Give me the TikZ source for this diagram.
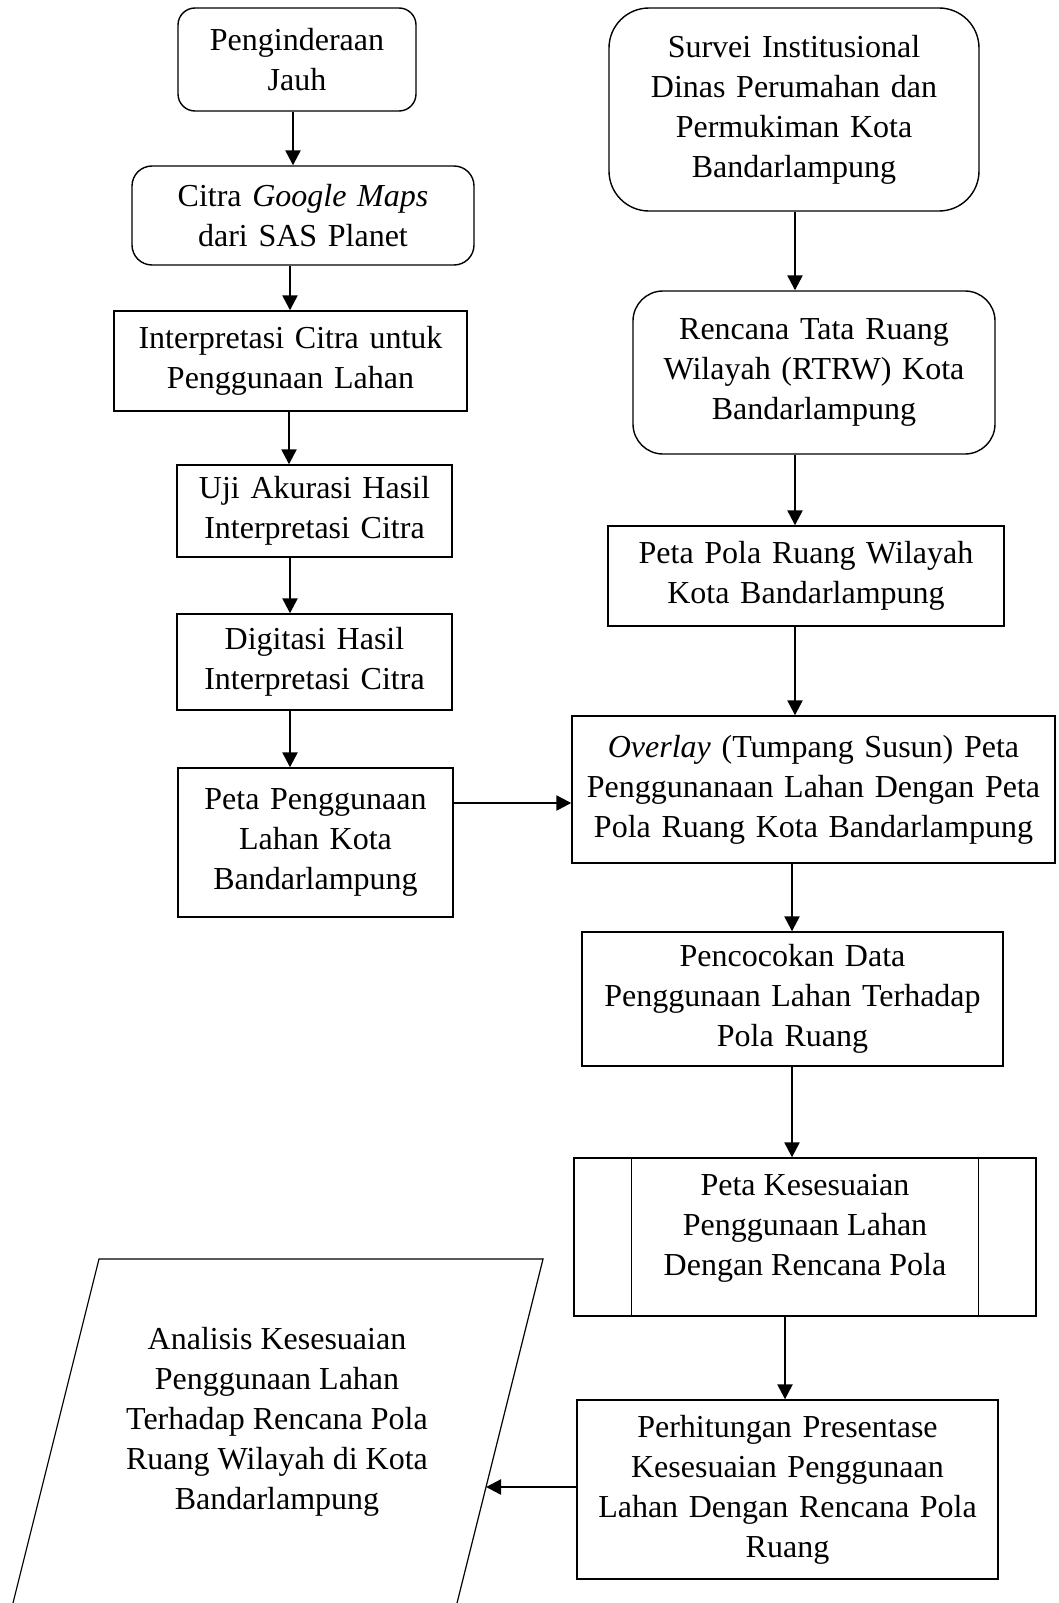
\documentclass[tikz,border=0pt]{standalone}
\usepackage{fontspec}
\setmainfont{Liberation Serif}
\usetikzlibrary{arrows.meta,calc}
\begin{document}
\begin{tikzpicture}[x=1pt,y=-1pt,
  txt/.style={inner sep=0pt, align=center, font=\fontsize{32}{40}\selectfont},
  box/.style={txt, draw, line width=1.4pt},
  sz/.style 2 args={text width=#1pt, minimum height=#2pt},
  arr/.style={line width=2.4pt, -{Triangle[length=15pt,width=15pt]}},
]
\useasboundingbox (0,0) rectangle (1059,1603);

% left column
\node[box, sz={238}{103}, rounded corners=17pt] (pj) at (297,59.5) {Penginderaan\\Jauh};
\node[box, sz={342}{99}, rounded corners=20pt] (cgm) at (303,215.5) {Citra \textit{Google Maps}\\dari SAS Planet};
\node[box, sz={353}{100}] (icl) at (290.5,361) {Interpretasi Citra untuk\\Penggunaan Lahan};
\node[box, sz={275}{92}] (uji) at (314.5,511) {Uji Akurasi Hasil\\Interpretasi Citra};
\node[box, sz={275}{96}] (dig) at (314.5,662) {Digitasi Hasil\\Interpretasi Citra};
\node[box, sz={275}{149}] (ppl) at (315.5,842.5) {Peta Penggunaan\\Lahan Kota\\Bandarlampung};

% right column
\node[box, sz={370}{203}, rounded corners=40pt] (sv) at (794,109.5) {Survei Institusional\\Dinas Perumahan dan\\Permukiman Kota\\Bandarlampung};
\node[box, sz={362}{163}, rounded corners=30pt] (rt) at (814,372.5) {Rencana Tata Ruang\\Wilayah (RTRW) Kota\\Bandarlampung};
\node[box, sz={396}{100}] (ppr) at (806,576) {Peta Pola Ruang Wilayah\\Kota Bandarlampung};
\node[box, sz={483}{147}] (ov) at (813.5,789.5) {\textit{Overlay} (Tumpang Susun) Peta\\Penggunanaan Lahan Dengan Peta\\Pola Ruang Kota Bandarlampung};
\node[box, sz={421}{134}] (pc) at (792.5,999) {Pencocokan Data\\Penggunaan Lahan Terhadap\\Pola Ruang};
\node[box, sz={462}{158}] (kes) at (805,1237) {};
\draw[line width=1.4pt] ([xshift=58pt]kes.north west) -- ([xshift=58pt]kes.south west);
\draw[line width=1.4pt] ([xshift=-58pt]kes.north east) -- ([xshift=-58pt]kes.south east);
\node[txt] (kest) at (805,1228) {Peta Kesesuaian\\Penggunaan Lahan\\Dengan Rencana Pola};
\node[box, sz={421}{179}] (ph) at (787.5,1489.5) {Perhitungan Presentase\\Kesesuaian Penggunaan\\Lahan Dengan Rencana Pola\\Ruang};

% output parallelogram (cut by the page bottom)
\draw[line width=1.2pt, line join=miter] (13,1603) -- (99,1259) -- (543,1259) -- (457,1603);
\node[txt] (ana) at (277,1422) {Analisis Kesesuaian\\Penggunaan Lahan\\Terhadap Rencana Pola\\Ruang Wilayah di Kota\\Bandarlampung};
\coordinate (pr) at (486,1487);

% connector columns
\coordinate (xa) at (293,0);
\coordinate (xb) at (290,0);
\coordinate (xc) at (289,0);
\coordinate (xr) at (795,0);
\coordinate (xr2) at (792,0);
\coordinate (xr3) at (785,0);
\coordinate (ya) at (0,803);
\coordinate (yb) at (0,1487);

\draw[arr] (pj.south -| xa) -- (cgm.north -| xa);
\draw[arr] (cgm.south -| xb) -- (icl.north -| xb);
\draw[arr] (icl.south -| xc) -- (uji.north -| xc);
\draw[arr] (uji.south -| xb) -- (dig.north -| xb);
\draw[arr] (dig.south -| xb) -- (ppl.north -| xb);
\draw[arr] (ppl.east |- ya) -- (ov.west |- ya);

\draw[arr] (sv.south -| xr) -- (rt.north -| xr);
\draw[arr] (rt.south -| xr) -- (ppr.north -| xr);
\draw[arr] (ppr.south -| xr) -- (ov.north -| xr);
\draw[arr] (ov.south -| xr2) -- (pc.north -| xr2);
\draw[arr] (pc.south -| xr2) -- (kes.north -| xr2);
\draw[arr] (kes.south -| xr3) -- (ph.north -| xr3);
\draw[arr] (ph.west |- yb) -- (pr);
\end{tikzpicture}
\end{document}
